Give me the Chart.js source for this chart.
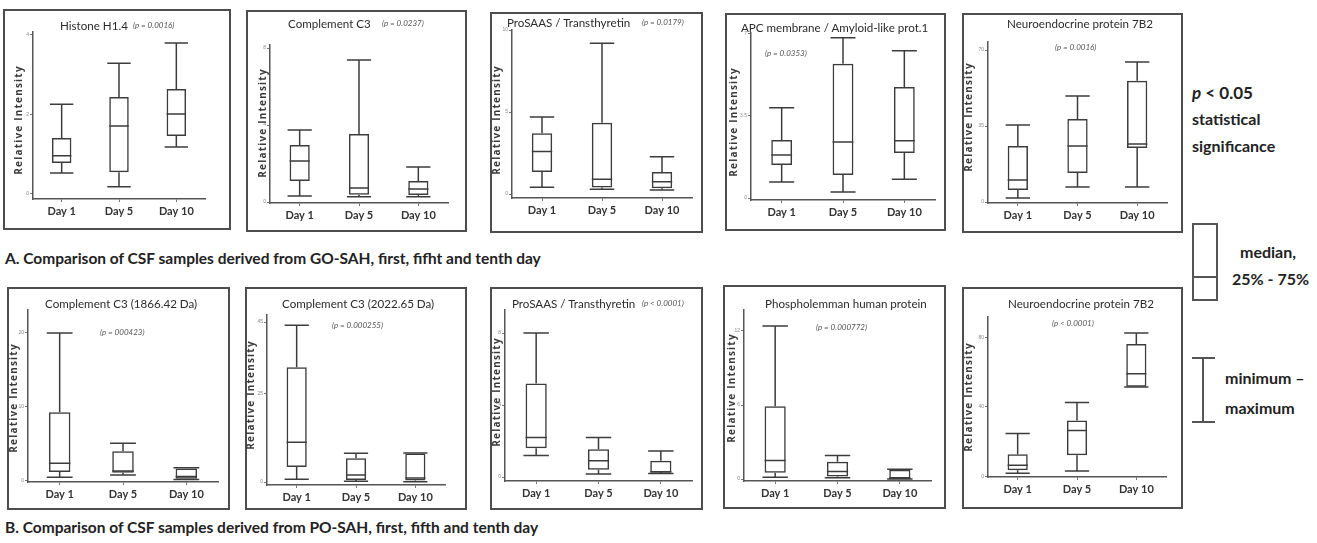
<!DOCTYPE html>
<html>
<head>
<meta charset="utf-8">
<script src="https://cdn.jsdelivr.net/npm/chart.js@4.4.1/dist/chart.umd.min.js"></script>
<style>
  body { margin: 0; background: #fff; width: 1317px; height: 543px; position: relative; overflow: hidden; font-family: Lato, sans-serif; }
  .frame { position: absolute; border: 2px solid #4d4d4d; box-sizing: border-box; pointer-events: none; }
  canvas { position: absolute; }
  .t { position: absolute; white-space: nowrap; color: #2b2b2b; font-size: 11.6px; transform: translateY(-50%); }
  .p { position: absolute; white-space: nowrap; color: #555; font-size: 8px; font-style: italic; transform: translateY(-50%); }
  .yt { position: absolute; white-space: nowrap; font-family: 'Open Sans', sans-serif; font-weight: 700; font-size: 10px;
        letter-spacing: 1.2px; color: #3a3a3a; transform: translate(-50%, -50%) rotate(-90deg); }
  .cap { position: absolute; white-space: nowrap; font-weight: 700; font-size: 15.5px; color: #222; transform: translateY(-50%); }
  .leg { position: absolute; white-space: nowrap; font-weight: 700; font-size: 16px; color: #222; transform: translateY(-50%); }
  .lbox { position: absolute; border: 2px solid #555; box-sizing: border-box; }
  .lline { position: absolute; background: #555; }
</style>
</head>
<body>
<div class="cap" style="left:5px;top:258px">A. Comparison of CSF samples derived from GO-SAH, first, fifht and tenth day</div>
<div class="cap" style="left:5px;top:527px">B. Comparison of CSF samples derived from PO-SAH, first, fifth and tenth day</div>

<div class="leg" style="left:1192px;top:92px;font-size:17px"><i>p</i> &lt; 0.05</div>
<div class="leg" style="left:1192px;top:118px">statistical</div>
<div class="leg" style="left:1192px;top:145px">significance</div>
<div class="lbox" style="left:1192px;top:223px;width:26px;height:78px"></div>
<div class="lline" style="left:1192px;top:276px;width:26px;height:2px"></div>
<div class="leg" style="left:1240px;top:251px">median,</div>
<div class="leg" style="left:1232px;top:278px">25% - 75%</div>
<div class="lline" style="left:1202px;top:358px;width:2px;height:64px"></div>
<div class="lline" style="left:1192px;top:357px;width:23px;height:2px"></div>
<div class="lline" style="left:1192px;top:421px;width:23px;height:2px"></div>
<div class="leg" style="left:1225px;top:377px">minimum –</div>
<div class="leg" style="left:1225px;top:407px">maximum</div>

<script>
const days = ['Day 1', 'Day 5', 'Day 10'];

// each row: [minimum, 25%, median, 75%, maximum]
const histoneH14 = [[0.53, 0.78, 0.96, 1.41, 2.26], [0.18, 0.55, 1.71, 2.44, 3.29], [1.18, 1.46, 2.01, 2.64, 3.80]];
const complementC3GO = [[0.31, 1.09, 2.13, 2.96, 3.74], [0.28, 0.38, 0.73, 3.53, 7.38], [0.28, 0.36, 0.68, 1.09, 1.82]];
const proSaasGO = [[0.42, 1.35, 2.6, 3.7, 4.7], [0.3, 0.4, 0.9, 4.35, 9.2], [0.25, 0.35, 0.75, 1.35, 2.27]];
const apcAmyloid = [[0.68, 1.41, 1.84, 2.48, 3.85], [0.26, 0.98, 2.39, 5.73, 6.84], [0.8, 1.92, 2.44, 4.74, 6.28]];
const neuro7b2GO = [[1.8, 5.5, 10.1, 25.8, 35.5], [6.9, 13.4, 25.8, 38.2, 48.8], [6.9, 24.9, 26.7, 55.8, 64.5]];
const complementC3_1866 = [[0.5, 1.2, 2.4, 9.3, 20.0], [0.8, 1.1, 1.35, 4.0, 5.1], [0.2, 0.3, 0.6, 1.7, 1.8]];
const complementC3_2022 = [[0.8, 4.2, 11.2, 32.3, 44.1], [0.2, 0.6, 2.0, 6.7, 8.1], [0.1, 0.4, 1.1, 8.0, 8.2]];
const proSaasPO = [[1.2, 1.6, 2.2, 5.2, 8.0], [0.17, 0.4, 0.9, 1.55, 2.2], [0.2, 0.25, 0.3, 0.9, 1.45]];
const phospholemman = [[0.15, 0.5, 1.5, 5.9, 12.4], [0.1, 0.2, 0.6, 1.4, 1.9], [0.0, 0.05, 0.1, 0.75, 0.8]];
const neuro7b2PO = [[1.7, 3.4, 6.3, 12.6, 24.7], [2.9, 12.1, 26.4, 32.2, 42.5], [51.5, 51.7, 59.2, 76.4, 82.8]];

// y tick labels
const ticksHistone = [0, 2, 4];
const ticksC3GO = [0, 4, 8];
const ticksProSaasGO = [0, 5, 10];
const ticksApc = [0, 3.5, 7];
const ticksNeuroGO = [0, 35, 70];
const ticks1866 = [0, 10, 20];
const ticks2022 = [0, 25, 45];
const ticksProSaasPO = [0, 4, 8];
const ticksPhospho = [0, 6, 12];
const ticksNeuroPO = [0, 40, 80];

const lineColor = '#3c3c3c';

// frame: [x, y, w, h], plot: [left, top, right, bottom] in page pixels
const panels = [
  { stats: histoneH14, ticks: ticksHistone, range: [-0.126, 4.075], title: 'Histone H1.4', p: '(p = 0.0016)',
    frame: [3, 9, 228, 221], plot: [33, 32, 205, 199], titleAt: [60, 25], pAt: [133, 25], yTitleAt: [18, 120] },
  { stats: complementC3GO, ticks: ticksC3GO, range: [-0.05, 8.16], title: 'Complement C3', p: '(p = 0.0237)',
    frame: [246, 10, 221, 222], plot: [270, 45, 448, 203], titleAt: [288, 23], pAt: [382, 23], yTitleAt: [262, 123] },
  { stats: proSaasGO, ticks: ticksProSaasGO, range: [-0.24, 10], title: 'ProSAAS / Transthyretin', p: '(p = 0.0179)',
    frame: [490, 12, 213, 221], plot: [512, 30, 692, 198], titleAt: [507, 22], pAt: [642, 22], yTitleAt: [496, 120] },
  { stats: apcAmyloid, ticks: ticksApc, range: [-0.085, 7.04], title: 'APC membrane / Amyloid-like prot.1', p: '(p = 0.0353)',
    frame: [725, 13, 221, 218], plot: [751, 33, 935, 200], titleAt: [741, 27], pAt: [765, 53], yTitleAt: [733, 122] },
  { stats: neuro7b2GO, ticks: ticksNeuroGO, range: [-0.46, 73.7], title: 'Neuroendocrine protein 7B2', p: '(p = 0.0016)',
    frame: [962, 13, 221, 220], plot: [988, 42, 1167, 203], titleAt: [1007, 23], pAt: [1055, 47], yTitleAt: [968, 117] },
  { stats: complementC3_1866, ticks: ticks1866, range: [-0.14, 23.1], title: 'Complement C3 (1866.42 Da)', p: '(p = 000423)',
    frame: [7, 287, 223, 223], plot: [28, 310, 218, 482], titleAt: [45, 303], pAt: [100, 332], yTitleAt: [13, 398] },
  { stats: complementC3_2022, ticks: ticks2022, range: [-0.84, 47], title: 'Complement C3 (2022.65 Da)', p: '(p = 0.000255)',
    frame: [245, 287, 222, 223], plot: [267, 315, 445, 485], titleAt: [282, 303], pAt: [332, 325], yTitleAt: [250, 395] },
  { stats: proSaasPO, ticks: ticksProSaasPO, range: [-0.22, 9.28], title: 'ProSAAS / Transthyretin', p: '(p < 0.0001)',
    frame: [490, 287, 213, 223], plot: [505, 310, 692, 481], titleAt: [512, 303], pAt: [642, 303], yTitleAt: [496, 392] },
  { stats: phospholemman, ticks: ticksPhospho, range: [-0.16, 13.7], title: 'Phospholemman human protein', p: '(p = 0.000772)',
    frame: [723, 285, 223, 224], plot: [744, 310, 931, 481], titleAt: [765, 303], pAt: [816, 327], yTitleAt: [731, 388] },
  { stats: neuro7b2PO, ticks: ticksNeuroPO, range: [-0.5, 92], title: 'Neuroendocrine protein 7B2', p: '(p < 0.0001)',
    frame: [962, 287, 221, 222], plot: [988, 317, 1166, 477], titleAt: [1008, 303], pAt: [1052, 323], yTitleAt: [968, 397] }
];

// whiskers, caps and median line on top of the floating bars
const boxPlugin = {
  id: 'boxWhiskers',
  afterDatasetsDraw(chart) {
    const ctx = chart.ctx;
    const y = chart.scales.y;
    const stats = chart.data.datasets[0].stats;
    ctx.save();
    ctx.strokeStyle = lineColor;
    ctx.lineWidth = 1.5;
    chart.getDatasetMeta(0).data.forEach((bar, i) => {
      const [mn, q1, med, q3, mx] = stats[i];
      const half = bar.width / 2;
      const cap = half * 1.2;
      const x = bar.x;
      ctx.beginPath();
      ctx.moveTo(x, y.getPixelForValue(q3));
      ctx.lineTo(x, y.getPixelForValue(mx));
      ctx.moveTo(x, y.getPixelForValue(q1));
      ctx.lineTo(x, y.getPixelForValue(mn));
      ctx.moveTo(x - cap, y.getPixelForValue(mx));
      ctx.lineTo(x + cap, y.getPixelForValue(mx));
      ctx.moveTo(x - cap, y.getPixelForValue(mn));
      ctx.lineTo(x + cap, y.getPixelForValue(mn));
      ctx.moveTo(x - half, y.getPixelForValue(med));
      ctx.lineTo(x + half, y.getPixelForValue(med));
      ctx.stroke();
    });
    ctx.restore();
  }
};

function addText(cls, text, x, y) {
  const d = document.createElement('div');
  d.className = cls;
  d.textContent = text;
  d.style.left = x + 'px';
  d.style.top = y + 'px';
  document.body.appendChild(d);
}

panels.forEach(panel => {
  const [fx, fy, fw, fh] = panel.frame;
  const [l, t, r, b] = panel.plot;

  const canvas = document.createElement('canvas');
  canvas.width = fw;
  canvas.height = fh;
  canvas.style.left = fx + 'px';
  canvas.style.top = fy + 'px';
  document.body.appendChild(canvas);

  const frame = document.createElement('div');
  frame.className = 'frame';
  frame.style.left = fx + 'px';
  frame.style.top = fy + 'px';
  frame.style.width = fw + 'px';
  frame.style.height = fh + 'px';
  document.body.appendChild(frame);

  addText('t', panel.title, panel.titleAt[0], panel.titleAt[1]);
  addText('p', panel.p, panel.pAt[0], panel.pAt[1]);
  addText('yt', 'Relative Intensity', panel.yTitleAt[0], panel.yTitleAt[1]);

  new Chart(canvas.getContext('2d'), {
    type: 'bar',
    data: {
      labels: days,
      datasets: [{
        data: panel.stats.map(s => [s[1], s[3]]),
        stats: panel.stats,
        backgroundColor: 'rgba(255,255,255,0)',
        borderColor: lineColor,
        borderWidth: 1.5,
        borderSkipped: false,
        barPercentage: 0.34,
        categoryPercentage: 1
      }]
    },
    options: {
      responsive: false,
      animation: false,
      layout: {
        padding: { left: l - fx - 12, top: t - fy, right: fx + fw - r, bottom: fy + fh - b - 24 }
      },
      plugins: { legend: { display: false }, tooltip: { enabled: false } },
      scales: {
        x: {
          offset: true,
          grid: { display: true, drawOnChartArea: false, tickLength: 3, offset: false, color: '#777' },
          border: { display: true, color: '#555', width: 1.5 },
          ticks: { font: { family: 'Lato', size: 11, weight: 'bold' }, color: '#333', padding: 3 },
          afterFit(s) { s.height = 24; }
        },
        y: {
          min: panel.range[0],
          max: panel.range[1],
          afterBuildTicks(s) { s.ticks = panel.ticks.map(v => ({ value: v })); },
          grid: { display: true, drawOnChartArea: false, tickLength: 3, color: '#777' },
          border: { display: true, color: '#555', width: 1.5 },
          ticks: { font: { size: 5 }, color: '#888', padding: 1, autoSkip: false },
          afterFit(s) { s.width = 12; }
        }
      }
    },
    plugins: [boxPlugin]
  });
});
</script>
</body>
</html>
